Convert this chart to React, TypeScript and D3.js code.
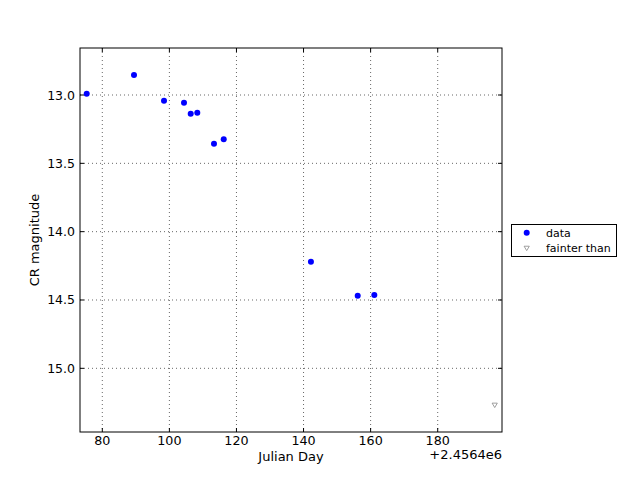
import React from "react";
import * as d3 from "d3";

const jdOffsets = [75.35, 89.45, 98.4, 104.36, 106.36, 108.32, 113.3, 116.2, 142.2, 156.15, 161.1];
const magnitudes = [12.99, 12.854, 13.042, 13.056, 13.137, 13.13, 13.356, 13.324, 14.22, 14.469, 14.464];
const limitJd = [197.0];
const limitMag = [15.27];
const xTicks = [80, 100, 120, 140, 160, 180];
const yTicks = [13.0, 13.5, 14.0, 14.5, 15.0];
const legendLabels = ["data", "fainter than"];

const W = 640, H = 480;
const L = 80, R = 502, T = 48, B = 432;

export default function App() {
  const x = d3.scaleLinear().domain([73.35, 199.17]).range([L, R]);
  const y = d3.scaleLinear().domain([12.656, 15.466]).range([T, B]);
  const font = "DejaVu Sans, sans-serif";
  const tri = (cx: number, cy: number, s: number) =>
    `M${cx - s},${cy - s * 0.8}L${cx + s},${cy - s * 0.8}L${cx},${cy + s * 0.9}Z`;
  return (
    <svg width={W} height={H} style={{ position: "absolute", left: 0, top: 0, background: "#fff" }} fontFamily={font}>
      <rect x={0} y={0} width={W} height={H} fill="#fff" />
      {xTicks.map((t) => (
        <g key={"x" + t}>
          <line x1={x(t)} x2={x(t)} y1={T} y2={B} stroke="#000" strokeWidth={0.6} strokeDasharray="1,3" />
          <line x1={x(t)} x2={x(t)} y1={B} y2={B - 4} stroke="#000" />
          <line x1={x(t)} x2={x(t)} y1={T} y2={T + 4} stroke="#000" />
          <text x={x(t)} y={445} fontSize={12.7} textAnchor="middle">{t}</text>
        </g>
      ))}
      {yTicks.map((t) => (
        <g key={"y" + t}>
          <line x1={L} x2={R} y1={y(t)} y2={y(t)} stroke="#000" strokeWidth={0.6} strokeDasharray="1,3" />
          <line x1={L} x2={L + 4} y1={y(t)} y2={y(t)} stroke="#000" />
          <line x1={R} x2={R - 4} y1={y(t)} y2={y(t)} stroke="#000" />
          <text x={75} y={y(t) + 4.5} fontSize={12.5} textAnchor="end">{t.toFixed(1)}</text>
        </g>
      ))}
      {jdOffsets.map((d, i) => (
        <circle key={"p" + i} cx={x(d)} cy={y(magnitudes[i])} r={3} fill="#0000ff" />
      ))}
      {limitJd.map((d, i) => (
        <path key={"l" + i} d={tri(x(d), y(limitMag[i]), 2.6)} fill="#fff" stroke="#888" strokeWidth={0.8} />
      ))}
      <rect x={L} y={T} width={R - L} height={B - T} fill="none" stroke="#000" strokeWidth={1} />
      <text x={(L + R) / 2} y={461} fontSize={13} textAnchor="middle">Julian Day</text>
      <text x={R} y={458.5} fontSize={13} textAnchor="end">+2.4564e6</text>
      <text transform={`translate(39,${(T + B) / 2}) rotate(-90)`} fontSize={13} textAnchor="middle">CR magnitude</text>
      <rect x={511.5} y={224.5} width={105} height={32} fill="#fff" stroke="#000" strokeWidth={1} />
      <circle cx={526.7} cy={232.7} r={3} fill="#0000ff" />
      <text x={546} y={236.5} fontSize={11}>{legendLabels[0]}</text>
      <path d={tri(526.7, 248.3, 2.6)} fill="#fff" stroke="#888" strokeWidth={0.8} />
      <text x={546} y={251.5} fontSize={11}>{legendLabels[1]}</text>
    </svg>
  );
}
